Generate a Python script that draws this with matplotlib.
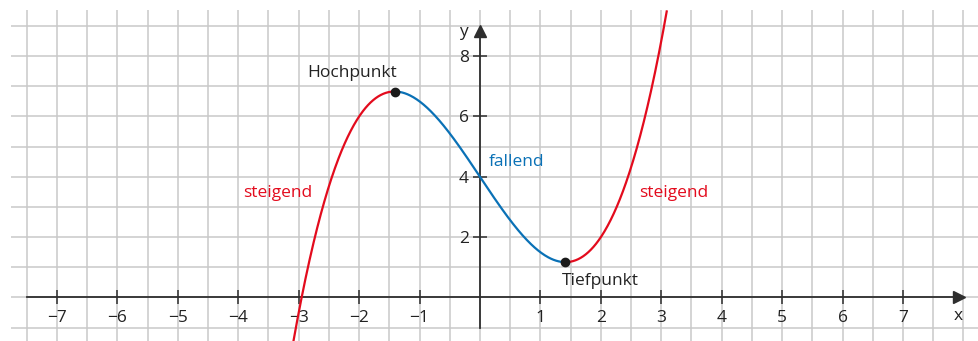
import numpy as np
import matplotlib
matplotlib.use("Agg")
import matplotlib.pyplot as plt

plt.rcParams["font.family"] = ["Open Sans", "DejaVu Sans"]

# f(x) = 0.5x^3 - 3x + 4, coefficients (extrema, f(0)=4)
coeffs = [0.5, 0.0, -3.0, 4.0]
x_start, x_end = -3.09, 3.09
hochpunkt = (-1.414, 6.828)
tiefpunkt = (1.414, 1.172)
x_ticks = [-7, -6, -5, -4, -3, -2, -1, 1, 2, 3, 4, 5, 6, 7]
y_ticks = [2, 4, 6, 8]

RED = "#e30b1d"
BLUE = "#0a71b6"
TXT = "#222222"
AX = "#2e2e2e"
GRID = "#c9c9c9"

fig = plt.figure(figsize=(9.79, 3.41), dpi=100)
ax = fig.add_axes([0, 0, 1, 1])
ax.set_xlim(-7.943, 8.258)
ax.set_ylim(-1.442, 9.861)

# squared paper
ax.vlines(np.arange(-7.5, 8.01, 0.5), -1.442, 9.53, color=GRID, lw=1.1, zorder=0)
ax.hlines(np.arange(-1, 9.01, 1), -7.76, 8.258, color=GRID, lw=1.1, zorder=0)

# axes through the origin
for side in ["top", "right"]:
    ax.spines[side].set_visible(False)
ax.spines["bottom"].set_position(("data", 0))
ax.spines["left"].set_position(("data", 0))
ax.spines["bottom"].set_bounds(-7.5, 7.9)
ax.spines["left"].set_bounds(-1, 8.85)
for side in ["bottom", "left"]:
    ax.spines[side].set_color(AX)
    ax.spines[side].set_linewidth(1.3)
    ax.spines[side].set_zorder(2)
ax.plot(7.93, 0, marker=">", ms=8, color=AX, clip_on=False, zorder=3)
ax.plot(0, 8.83, marker="^", ms=8, color=AX, clip_on=False, zorder=3)

ax.set_xticks(x_ticks)
ax.set_yticks(y_ticks)
ax.set_xticklabels([str(t).replace("-", "\u2212") for t in x_ticks])
ax.set_yticklabels([str(t) for t in y_ticks])
ax.tick_params(axis="both", direction="inout", length=10, width=1.1, color=AX,
               labelsize=12.5, labelcolor=TXT)
ax.tick_params(axis="x", pad=4)
ax.tick_params(axis="y", pad=3)

ax.text(7.91, -0.61, "x", ha="center", va="center", fontsize=12.5, color=TXT)
ax.text(-0.28, 8.80, "y", ha="center", va="center", fontsize=12.5, color=TXT)

# graph, coloured by monotonicity
xs_left = np.linspace(x_start, hochpunkt[0], 200)
xs_mid = np.linspace(hochpunkt[0], tiefpunkt[0], 200)
xs_right = np.linspace(tiefpunkt[0], x_end, 200)
ax.plot(xs_left, np.polyval(coeffs, xs_left), color=RED, lw=1.6, zorder=4)
ax.plot(xs_mid, np.polyval(coeffs, xs_mid), color=BLUE, lw=1.6, zorder=4)
ax.plot(xs_right, np.polyval(coeffs, xs_right), color=RED, lw=1.6, zorder=4)

ax.plot(*hochpunkt, "o", ms=6, color="#1a1a1a", zorder=5)
ax.plot(*tiefpunkt, "o", ms=6, color="#1a1a1a", zorder=5)

ax.text(-2.12, 7.44, "Hochpunkt", ha="center", va="center", fontsize=12.5, color=TXT)
ax.text(1.99, 0.55, "Tiefpunkt", ha="center", va="center", fontsize=12.5, color=TXT)
ax.text(-3.34, 3.46, "steigend", ha="center", va="center", fontsize=12.5, color=RED)
ax.text(3.21, 3.46, "steigend", ha="center", va="center", fontsize=12.5, color=RED)
ax.text(0.60, 4.49, "fallend", ha="center", va="center", fontsize=12.5, color=BLUE)

fig.savefig("out.png", dpi=100)
